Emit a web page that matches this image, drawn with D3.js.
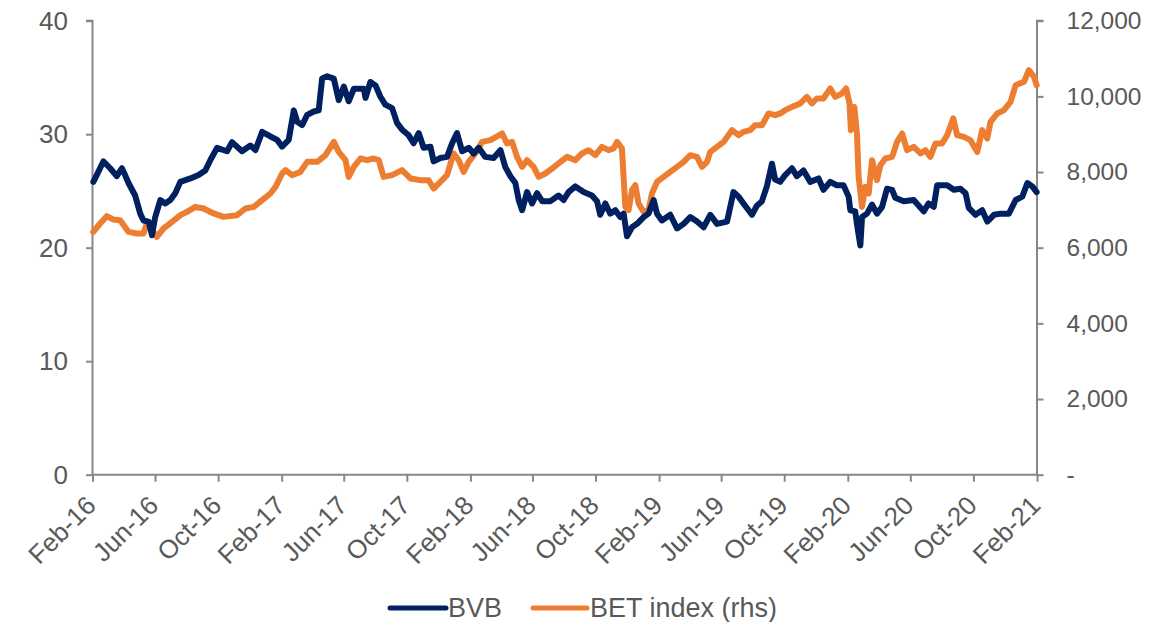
<!DOCTYPE html>
<html>
<head>
<meta charset="utf-8">
<script src="https://cdn.jsdelivr.net/npm/d3@7"></script>
<style>
  html, body { margin: 0; padding: 0; background: #fff; }
  svg { display: block; font-family: "Liberation Sans", Arial, sans-serif; }
</style>
</head>
<body>
<svg id="chart" width="1163" height="622"></svg>
<script>
// ---- Data (dates as decimal years) ----
const bvbDates = [2016.089,2016.107,2016.142,2016.178,2016.213,2016.240,2016.257,2016.275,2016.310,2016.337,2016.354,2016.381,2016.399,2016.416,2016.443,2016.469,2016.496,2016.522,2016.549,2016.602,2016.645,2016.681,2016.707,2016.743,2016.796,2016.822,2016.875,2016.919,2016.946,2016.981,2017.025,2017.061,2017.087,2017.122,2017.149,2017.167,2017.193,2017.220,2017.255,2017.281,2017.299,2017.326,2017.361,2017.387,2017.414,2017.440,2017.467,2017.520,2017.529,2017.555,2017.582,2017.608,2017.634,2017.670,2017.696,2017.723,2017.758,2017.784,2017.811,2017.837,2017.873,2017.890,2017.926,2017.961,2017.988,2018.014,2018.041,2018.076,2018.102,2018.129,2018.164,2018.208,2018.244,2018.270,2018.297,2018.323,2018.341,2018.359,2018.385,2018.412,2018.438,2018.465,2018.509,2018.552,2018.579,2018.605,2018.641,2018.685,2018.729,2018.756,2018.773,2018.800,2018.826,2018.853,2018.879,2018.897,2018.915,2018.941,2018.968,2019.003,2019.029,2019.056,2019.074,2019.100,2019.144,2019.180,2019.215,2019.250,2019.286,2019.321,2019.356,2019.392,2019.445,2019.479,2019.506,2019.532,2019.559,2019.577,2019.603,2019.630,2019.656,2019.683,2019.700,2019.727,2019.753,2019.789,2019.815,2019.850,2019.886,2019.930,2019.956,2019.992,2020.027,2020.062,2020.089,2020.098,2020.124,2020.133,2020.151,2020.160,2020.186,2020.213,2020.239,2020.266,2020.292,2020.319,2020.336,2020.380,2020.433,2020.486,2020.512,2020.539,2020.557,2020.610,2020.645,2020.680,2020.707,2020.724,2020.760,2020.795,2020.822,2020.857,2020.892,2020.936,2020.972,2021.007,2021.034,2021.060,2021.083];
const bvbValues = [25.8,26.4,27.6,27.0,26.3,27.0,26.4,25.7,24.6,23.0,22.4,22.3,21.1,22.7,24.2,23.9,24.2,24.8,25.8,26.1,26.4,26.8,27.7,28.8,28.5,29.3,28.5,29.0,28.6,30.2,29.8,29.5,28.9,29.5,32.1,31.1,30.8,31.7,32.0,32.1,34.9,35.1,34.9,33.0,34.2,32.9,34.0,34.0,33.2,34.6,34.3,33.3,32.6,32.3,31.0,30.4,29.9,29.2,30.1,28.8,28.9,27.6,27.9,28.0,29.2,30.1,28.5,28.8,28.3,28.8,28.0,27.9,28.6,27.1,26.3,25.7,24.2,23.3,24.9,23.9,24.8,24.1,24.1,24.6,24.2,24.9,25.4,24.9,24.6,24.1,22.9,23.9,23.0,23.3,22.7,23.0,21.0,21.8,22.1,22.7,23.0,24.2,23.0,22.4,22.9,21.7,22.1,22.7,22.3,21.8,22.9,22.1,22.3,24.9,24.5,23.9,23.3,22.9,23.7,24.1,25.4,27.4,26.0,25.8,26.4,27.0,26.3,26.8,25.8,26.1,25.1,25.8,25.5,25.5,24.5,23.3,23.2,22.1,20.2,22.7,23.0,23.8,23.0,23.6,25.2,25.1,24.4,24.1,24.2,23.2,23.9,23.6,25.5,25.5,25.1,25.2,24.8,23.5,22.9,23.3,22.3,22.9,23.0,23.0,24.2,24.5,25.7,25.4,24.9];

const betDates = [2016.089,2016.125,2016.160,2016.195,2016.231,2016.275,2016.319,2016.354,2016.372,2016.399,2016.425,2016.460,2016.505,2016.549,2016.584,2016.628,2016.672,2016.725,2016.778,2016.849,2016.893,2016.937,2016.981,2017.025,2017.052,2017.087,2017.105,2017.140,2017.184,2017.220,2017.273,2017.317,2017.361,2017.387,2017.423,2017.440,2017.467,2017.502,2017.538,2017.572,2017.599,2017.625,2017.670,2017.723,2017.767,2017.820,2017.864,2017.890,2017.926,2017.961,2017.996,2018.023,2018.049,2018.076,2018.111,2018.147,2018.191,2018.253,2018.279,2018.306,2018.332,2018.359,2018.385,2018.420,2018.447,2018.482,2018.518,2018.552,2018.597,2018.641,2018.676,2018.711,2018.747,2018.782,2018.817,2018.844,2018.862,2018.888,2018.906,2018.923,2018.941,2018.959,2018.976,2019.003,2019.029,2019.047,2019.074,2019.109,2019.144,2019.180,2019.215,2019.250,2019.286,2019.312,2019.339,2019.356,2019.392,2019.427,2019.471,2019.506,2019.532,2019.568,2019.594,2019.630,2019.665,2019.700,2019.727,2019.753,2019.789,2019.833,2019.868,2019.895,2019.921,2019.956,2019.992,2020.018,2020.054,2020.076,2020.094,2020.101,2020.119,2020.133,2020.142,2020.160,2020.177,2020.195,2020.213,2020.239,2020.257,2020.283,2020.319,2020.345,2020.372,2020.398,2020.433,2020.469,2020.495,2020.521,2020.548,2020.583,2020.610,2020.642,2020.663,2020.698,2020.733,2020.769,2020.795,2020.822,2020.839,2020.875,2020.910,2020.945,2020.972,2021.016,2021.042,2021.069,2021.083];
const betValues = [6418,6640,6833,6746,6727,6418,6376,6376,6640,6463,6286,6508,6683,6860,6947,7079,7037,6905,6815,6860,7037,7079,7256,7433,7608,7962,8049,7917,8004,8269,8269,8446,8797,8533,8313,7872,8137,8358,8313,8358,8313,7872,7917,8049,7830,7785,7785,7565,7740,7917,8491,8313,8004,8269,8491,8797,8842,9019,8755,8797,8401,8137,8313,8137,7872,7962,8093,8226,8401,8313,8491,8578,8446,8665,8578,8623,8797,8623,7079,6992,7520,7653,7169,6947,6992,7433,7740,7872,8004,8137,8269,8446,8401,8137,8269,8533,8665,8797,9107,8974,9062,9107,9239,9239,9548,9503,9548,9635,9723,9812,9987,9812,9944,9944,10209,9987,10077,10209,9812,9107,9723,9019,7872,7079,7608,7433,8313,7785,8181,8358,8401,8797,9019,8578,8665,8491,8578,8401,8755,8755,8974,9416,8974,8930,8842,8533,9107,8887,9327,9548,9635,9855,10296,10384,10693,10516,10296];

const xTickLabels = ["Feb-16","Jun-16","Oct-16","Feb-17","Jun-17","Oct-17","Feb-18","Jun-18","Oct-18","Feb-19","Jun-19","Oct-19","Feb-20","Jun-20","Oct-20","Feb-21"];
const leftTicks = [0,10,20,30,40];
const rightTicks = [0,2000,4000,6000,8000,10000,12000];
const seriesNames = ["BVB","BET index (rhs)"];
const seriesColors = ["#002060","#ED7D31"];

// ---- Helpers ----
function decToDate(d) {
  const yr = Math.floor(d);
  const s = new Date(yr, 0, 1).getTime(), e = new Date(yr + 1, 0, 1).getTime();
  return new Date(s + (d - yr) * (e - s));
}
const parseTick = d3.timeParse("%b-%y");

const bvb = bvbDates.map((d, i) => ({ date: decToDate(d), v: bvbValues[i] }));
const bet = betDates.map((d, i) => ({ date: decToDate(d), v: betValues[i] }));

// ---- Layout ----
const L = 92.5, R = 1037, T = 20.7, B = 474.7;
const svg = d3.select("#chart");
const textColor = "#595959", axisColor = "#878787";

const x = d3.scaleTime().domain([parseTick("Feb-16"), parseTick("Feb-21")]).range([L, R]);
const yL = d3.scaleLinear().domain([0, 40]).range([B, T]);
const yR = d3.scaleLinear().domain([0, 12000]).range([B, T]);

// Left axis
const gL = svg.append("g").attr("transform", `translate(${L},0)`)
  .call(d3.axisLeft(yL).tickValues(leftTicks).tickSize(6.5).tickPadding(18).tickFormat(d3.format("d")));
// Right axis
const gR = svg.append("g").attr("transform", `translate(${R},0)`)
  .call(d3.axisRight(yR).tickValues(rightTicks).tickSize(6.5).tickPadding(23)
    .tickFormat(d => d === 0 ? "-" : d3.format(",")(d)));
// Bottom axis
const gB = svg.append("g").attr("transform", `translate(0,${B})`)
  .call(d3.axisBottom(x).tickValues(xTickLabels.map(parseTick)).tickSize(7).tickFormat(d3.timeFormat("%b-%y")));

[gL, gR, gB].forEach(g => {
  g.select(".domain").attr("stroke", axisColor).attr("stroke-width", 2);
  g.selectAll(".tick line").attr("stroke", axisColor).attr("stroke-width", 2);
  g.selectAll("text").attr("fill", textColor).attr("font-family", "Liberation Sans, Arial, sans-serif");
});
gL.select(".domain").attr("d", `M-6.5,${T}H0V${B}`);
gR.select(".domain").attr("d", `M6.5,${T}H0V${B}`);
gL.selectAll("text").attr("font-size", 26);
gR.selectAll("text").attr("font-size", 24.5);
gB.select(".domain").attr("d", `M${L},0H${R}`);
gB.selectAll("text")
  .attr("font-size", 26)
  .attr("text-anchor", "end")
  .attr("y", 0).attr("dy", "0.35em")
  .attr("transform", "translate(-2,26) rotate(-45)");

// Lines
const lineL = d3.line().x(d => x(d.date)).y(d => yL(d.v));
const lineR = d3.line().x(d => x(d.date)).y(d => yR(d.v));
svg.append("path").datum(bet).attr("d", lineR).attr("fill", "none")
  .attr("stroke", seriesColors[1]).attr("stroke-width", 6).attr("stroke-linejoin", "round").attr("stroke-linecap", "round");
svg.append("path").datum(bvb).attr("d", lineL).attr("fill", "none")
  .attr("stroke", seriesColors[0]).attr("stroke-width", 6).attr("stroke-linejoin", "round").attr("stroke-linecap", "round");

// Legend
const legendItems = [
  { name: seriesNames[0], color: seriesColors[0], x0: 390, x1: 446, tx: 448 },
  { name: seriesNames[1], color: seriesColors[1], x0: 533, x1: 587, tx: 590 }
];
const lg = svg.append("g");
legendItems.forEach(it => {
  lg.append("line").attr("x1", it.x0).attr("x2", it.x1).attr("y1", 608).attr("y2", 608)
    .attr("stroke", it.color).attr("stroke-width", 5).attr("stroke-linecap", "round");
  lg.append("text").attr("x", it.tx).attr("y", 617).attr("font-size", 27).attr("fill", textColor)
    .text(it.name);
});
</script>
</body>
</html>
